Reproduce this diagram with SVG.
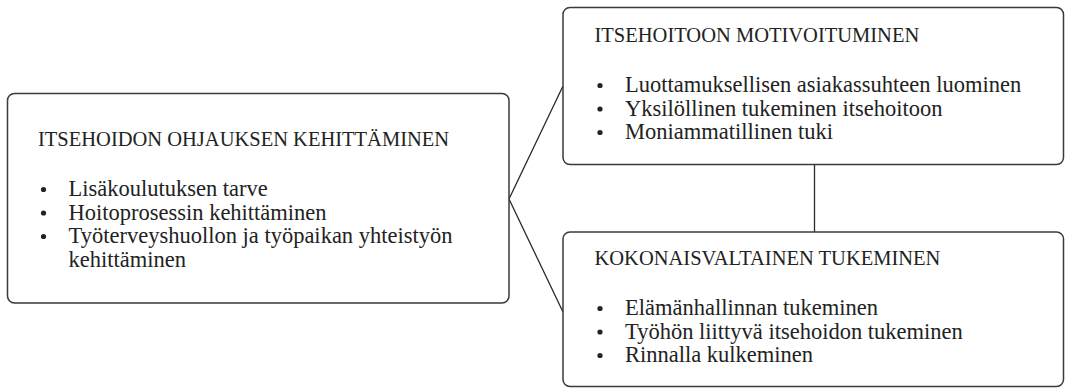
<svg xmlns="http://www.w3.org/2000/svg" width="1068" height="388" viewBox="0 0 1068 388">
<style>
.box{fill:#fff;stroke:#3a3a3a;stroke-width:1.5}
.ln{stroke:#2a2a2a;stroke-width:1.3;fill:none}
.t{font-family:"Liberation Serif","Times New Roman",serif;font-size:20.5px;fill:#222}
.b{font-family:"Liberation Serif","Times New Roman",serif;font-size:22.5px;fill:#222}
.dot{fill:#222}
</style>
<rect width="1068" height="388" fill="#fff"/>
<g id="connectors">
<polyline class="ln" points="563,86 509,199 563,312"/>
<line class="ln" x1="814.5" y1="164.5" x2="814.5" y2="232"/>
</g>
<g id="node-ohjaus">
<rect class="box" x="7.5" y="93.5" width="501.5" height="209.5" rx="7"/>
<text class="t" x="38" y="146">ITSEHOIDON OHJAUKSEN KEHITTÄMINEN</text>
<circle class="dot" cx="43.5" cy="189.5" r="2.6"/>
<circle class="dot" cx="43.5" cy="213" r="2.6"/>
<circle class="dot" cx="43.5" cy="236.5" r="2.6"/>
<text class="b" x="68.5" y="196">Lisäkoulutuksen tarve</text>
<text class="b" x="68.5" y="219.5">Hoitoprosessin kehittäminen</text>
<text class="b" x="68.5" y="243">Työterveyshuollon ja työpaikan yhteistyön</text>
<text class="b" x="68.5" y="266.5">kehittäminen</text>
</g>
<g id="node-motivointi">
<rect class="box" x="563" y="7.5" width="500.5" height="157" rx="7"/>
<text class="t" x="594.5" y="42">ITSEHOITOON MOTIVOITUMINEN</text>
<circle class="dot" cx="600" cy="85.5" r="2.6"/>
<circle class="dot" cx="600" cy="109" r="2.6"/>
<circle class="dot" cx="600" cy="132.5" r="2.6"/>
<text class="b" x="625" y="92">Luottamuksellisen asiakassuhteen luominen</text>
<text class="b" x="625" y="115.5">Yksilöllinen tukeminen itsehoitoon</text>
<text class="b" x="625" y="139">Moniammatillinen tuki</text>
</g>
<g id="node-kokonais">
<rect class="box" x="563" y="232" width="500.5" height="154.5" rx="7"/>
<text class="t" x="594.5" y="265">KOKONAISVALTAINEN TUKEMINEN</text>
<circle class="dot" cx="600" cy="308.5" r="2.6"/>
<circle class="dot" cx="600" cy="332" r="2.6"/>
<circle class="dot" cx="600" cy="355.5" r="2.6"/>
<text class="b" x="625" y="315">Elämänhallinnan tukeminen</text>
<text class="b" x="625" y="338.5">Työhön liittyvä itsehoidon tukeminen</text>
<text class="b" x="625" y="362">Rinnalla kulkeminen</text>
</g>
</svg>
